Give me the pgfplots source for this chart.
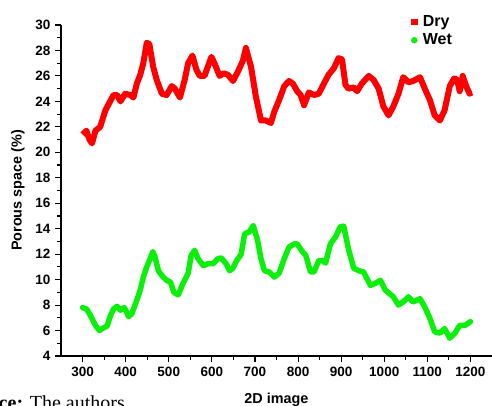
\documentclass[border=0pt]{standalone}
\usepackage{pgfplots}
\pgfplotsset{compat=1.18}
\usepackage{fontspec}
\setmainfont{Liberation Sans}
\newfontfamily\seriffont{Liberation Serif}
\definecolor{dryred}{RGB}{255,0,0}
\definecolor{wetgreen}{RGB}{10,240,10}
\pgfplotsset{mylegimg/.style={legend image code/.code={\path[draw=none,fill=none] (-4pt,0pt) -- (7pt,0pt);
    \path[##1] plot[only marks] coordinates {(0pt,0pt)};}}}
\begin{document}
\begin{tikzpicture}[x=1pt,y=1pt]
\begin{axis}[
  name=ax,
  at={(0,0)}, anchor=south west,
  scale only axis,
  width=431pt, height=331pt,
  xmin=250, xmax=1250,
  ymin=4, ymax=30,
  axis lines*=left,
  axis line style={line width=1.2pt,-},
  xtick={300,400,...,1200},
  ytick={4,6,...,30},
  minor x tick num=1,
  minor y tick num=1,
  tick align=outside,
  major tick length=6pt,
  minor tick length=3.5pt,
  tick style={line width=1.1pt,black},
  /pgf/number format/assume math mode=true,
  /pgf/number format/1000 sep={},
  tick label style={font=\bfseries\fontsize{13.5}{15}\selectfont},
  xticklabel style={yshift=-2pt},
  yticklabel style={xshift=-1pt},
  xlabel={\bfseries 2D image},
  ylabel={\bfseries Porous space (\%)},
  label style={font=\bfseries\fontsize{14.4}{16}\selectfont},
  xlabel style={at={(axis description cs:0.5,-0.1435)}, anchor=base},
  ylabel style={at={(axis description cs:-0.0998,0.5)}, anchor=center},
  clip=false,
  legend style={at={(0.803,1.04)}, anchor=north west, draw=none, fill=none,
    font=\bfseries\fontsize{16}{17}\selectfont, row sep=3pt,
    nodes={inner sep=1.5pt}},
  legend cell align=left,
]
\addlegendimage{only marks, mark=square*, mark size=2.7pt, color=dryred, mylegimg}
\addlegendentry{Dry}
\addlegendimage{only marks, mark=*, mark size=3pt, color=wetgreen, mylegimg}
\addlegendentry{Wet}

\addplot[forget plot, color=dryred, line width=6pt, line join=round] coordinates {
(300,21.4) (309,21.7) (316,21.0) (322,20.7) (330,21.7) (341,22.0) (353,23.3)
(364,24.0) (372,24.5) (380,24.5) (388,24.0) (399,24.6) (411,24.5) (418,24.3)
(426,25.4) (434,26.1) (441,27.0) (449,28.6) (455,28.5) (464,26.7) (472,25.7)
(484,24.6) (495,24.5) (507,25.2) (514,25.0) (526,24.3) (537,25.7) (545,27.0)
(555,27.6) (564,26.5) (572,26.0) (583,26.0) (599,27.5) (606,27.0) (618,26.0)
(627,26.2) (637,26.1) (649,25.6) (660,26.3) (672,27.2) (679,28.2) (691,26.7)
(702,24.4) (714,22.5) (725,22.5) (737,22.3) (745,23.2) (756,24.1) (768,25.2)
(779,25.6) (788,25.4) (798,24.8) (806,24.5) (814,23.7) (825,24.7) (837,24.5)
(848,24.6) (860,25.4) (871,26.1) (883,26.6) (894,27.4) (902,27.3) (910,25.3)
(917,25.0) (929,25.1) (937,24.8) (948,25.4) (964,26.0) (975,25.7) (987,25.0)
(998,23.6) (1010,22.9) (1021,23.6) (1033,24.6) (1044,25.9) (1056,25.5) (1067,25.6)
(1083,25.9) (1094,25.0) (1106,24.1) (1117,22.9) (1129,22.5) (1140,23.3) (1152,25.2)
(1162,25.8) (1169,25.7) (1175,24.8) (1182,26.0) (1190,25.2) (1198,24.6) (1203,24.7)
};
\addplot[forget plot, color=wetgreen, line width=5.5pt, line join=round, line cap=round] coordinates {
(300,7.8) (309,7.7) (318,7.2) (330,6.4) (339,6.0) (348,6.2) (357,6.35) (364,7.1)
(372,7.7) (380,7.9) (388,7.6) (397,7.8) (407,7.1) (414,7.3) (426,8.4) (434,9.2)
(441,10.2) (449,11.0) (457,11.65) (463,12.2) (468,11.8) (476,10.7) (487,10.2)
(495,9.95) (504,9.8) (512,9.0) (522,8.8) (533,9.7) (545,10.5) (552,11.9) (560,12.3)
(568,11.65) (580,11.1) (591,11.25) (603,11.25) (614,11.65) (622,11.7) (633,11.25)
(641,10.7) (649,10.9) (656,11.4) (668,12.0) (676,13.6) (687,13.75) (696,14.25)
(706,13.1) (714,11.65) (722,10.7) (733,10.6) (745,10.2) (756,10.5) (768,11.65)
(779,12.55) (791,12.8) (798,12.8) (810,12.2) (818,11.9) (829,10.6) (837,10.6)
(848,11.5) (856,11.5) (864,11.3) (875,12.8) (887,13.35) (898,14.15) (906,14.2)
(917,12.4) (929,10.9) (941,10.7) (952,10.6) (968,9.55) (979,9.7) (991,9.95)
(1002,9.2) (1014,8.85) (1021,8.65) (1033,8.0) (1044,8.25) (1056,8.65) (1067,8.25)
(1083,8.5) (1094,7.85) (1106,6.95) (1117,5.9) (1129,5.8) (1140,6.15) (1152,5.4)
(1164,5.8) (1175,6.4) (1187,6.4) (1200,6.7)
};
\end{axis}
\node[anchor=base east, font=\seriffont\fontsize{20}{22}\selectfont, inner sep=0pt]
  at ([shift={(64pt,-54pt)}]ax.south west) {\textbf{Source:} The authors};
\pgfresetboundingbox
\path[use as bounding box] (ax.south west) ++(-61pt,-50pt) rectangle ++(492pt,406pt);
\end{tikzpicture}
\end{document}
